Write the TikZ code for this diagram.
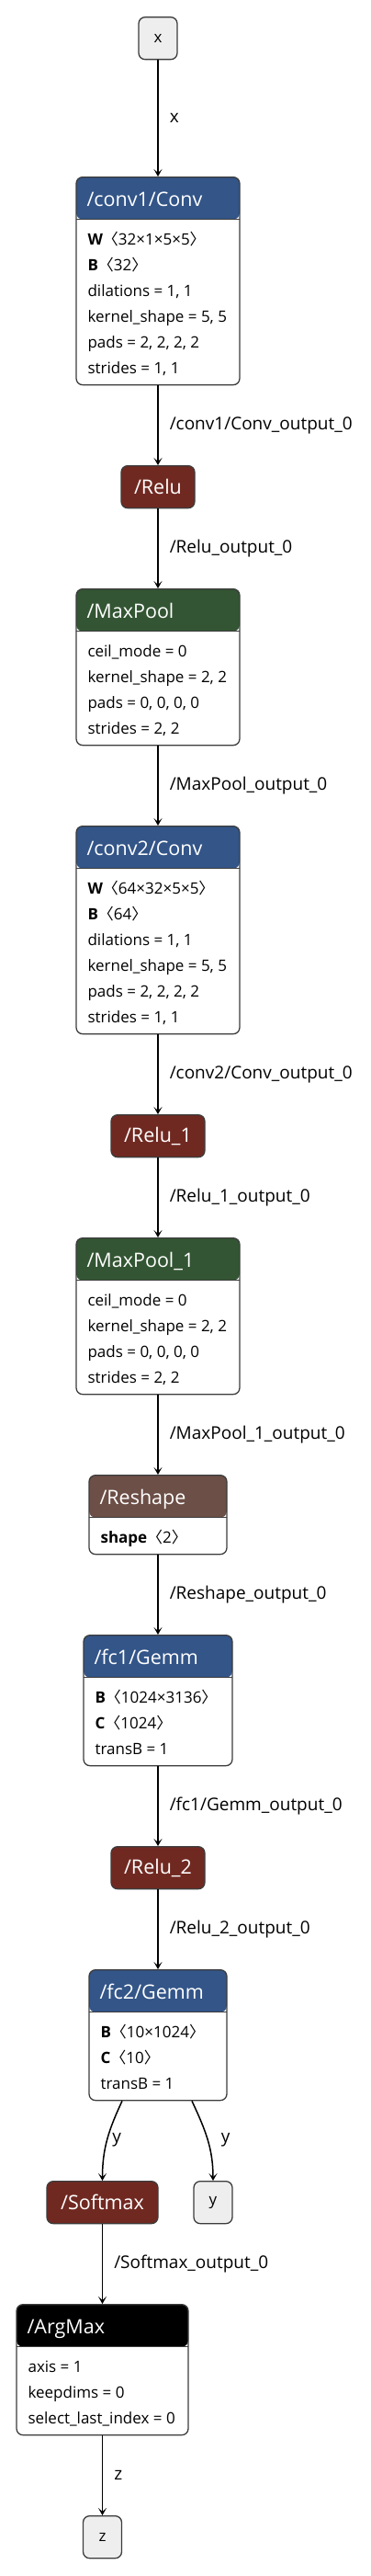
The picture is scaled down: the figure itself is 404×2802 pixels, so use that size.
\documentclass[tikz,border=0pt]{standalone}
\usepackage{fontspec}
\setmainfont{Open Sans}
\newfontfamily\cjkfont{Noto Sans CJK SC}
\usetikzlibrary{arrows.meta,positioning}

\definecolor{convblue}{RGB}{51,85,136}
\definecolor{actred}{RGB}{112,41,33}
\definecolor{poolgreen}{RGB}{51,85,51}
\definecolor{shapebrown}{RGB}{108,79,71}
\definecolor{iogray}{RGB}{238,238,238}
\definecolor{edgegray}{RGB}{60,60,60}

\newcommand{\hdfont}{\fontsize{21.5}{25}\selectfont}
\newcommand{\bdfont}{\fontsize{17}{20}\selectfont}
\newcommand{\lbfont}{\fontsize{19}{22}\selectfont}
\newcommand{\shp}[2]{\textbf{#1}{\cjkfont 〈}#2{\cjkfont 〉}}

\tikzset{
  opbox/.style={draw=edgegray, line width=1.3pt, rounded corners=7pt, fill=white, anchor=north, inner sep=0pt},
  hdr/.style={path picture={
      \fill[#1] (path picture bounding box.north west) rectangle ([yshift=-46pt]path picture bounding box.north east);
      \draw[edgegray, line width=1.3pt] ([yshift=-46pt]path picture bounding box.north west) -- ([yshift=-46pt]path picture bounding box.north east);}},
  hdtext/.style={anchor=base west, text=white, font=\hdfont, inner sep=0pt},
  attr/.style={anchor=base west, font=\bdfont, inner sep=0pt},
  actbox/.style={draw=edgegray, line width=1.3pt, rounded corners=7pt, fill=actred, text=white, font=\hdfont, minimum height=46pt, anchor=north, inner sep=0pt},
  iobox/.style={draw=edgegray, line width=1.3pt, rounded corners=7pt, fill=iogray, font=\bdfont, minimum width=42pt, minimum height=46pt, anchor=north, inner sep=0pt},
  flow/.style={-{Stealth[length=8pt,width=9pt,inset=4pt]}, line width=1.5pt},
  elabel/.style={font=\lbfont, inner sep=0pt}
}

\begin{document}
\begin{tikzpicture}[x=1pt, y=-1pt]
\useasboundingbox (0,0) rectangle (404,2802);

% input
\node [iobox] (xin) at (172,18) {x};

% conv1
\node [opbox, hdr=convblue, minimum width=178pt, minimum height=226pt] (conv1) at (172,192) {};
\node [hdtext] (conv1-h) at ([xshift=12pt,yshift=-32pt]conv1.north west) {/conv1/Conv};
\foreach \t [count=\i from 0] in {{\shp{W}{32×1×5×5}}, {\shp{B}{32}}, {dilations = 1, 1}, {kernel\_shape = 5, 5}, {pads = 2, 2, 2, 2}, {strides = 1, 1}}
  \node [attr] (conv1-\i) at ([xshift=13pt,yshift=-74pt-28pt*\i]conv1.north west) {\t};

\node [actbox, minimum width=80pt] (relu) at (172,506) {/Relu};

% pool1
\node [opbox, hdr=poolgreen, minimum width=178pt, minimum height=170pt] (pool1) at (172,640) {};
\node [hdtext] (pool1-h) at ([xshift=12pt,yshift=-32pt]pool1.north west) {/MaxPool};
\foreach \t [count=\i from 0] in {{ceil\_mode = 0}, {kernel\_shape = 2, 2}, {pads = 0, 0, 0, 0}, {strides = 2, 2}}
  \node [attr] (pool1-\i) at ([xshift=13pt,yshift=-74pt-28pt*\i]pool1.north west) {\t};

% conv2
\node [opbox, hdr=convblue, minimum width=178pt, minimum height=226pt] (conv2) at (172,898) {};
\node [hdtext] (conv2-h) at ([xshift=12pt,yshift=-32pt]conv2.north west) {/conv2/Conv};
\foreach \t [count=\i from 0] in {{\shp{W}{64×32×5×5}}, {\shp{B}{64}}, {dilations = 1, 1}, {kernel\_shape = 5, 5}, {pads = 2, 2, 2, 2}, {strides = 1, 1}}
  \node [attr] (conv2-\i) at ([xshift=13pt,yshift=-74pt-28pt*\i]conv2.north west) {\t};

\node [actbox, minimum width=102pt] (relu1) at (172,1212) {/Relu\_1};

% pool2
\node [opbox, hdr=poolgreen, minimum width=178pt, minimum height=170pt] (pool2) at (172,1346) {};
\node [hdtext] (pool2-h) at ([xshift=12pt,yshift=-32pt]pool2.north west) {/MaxPool\_1};
\foreach \t [count=\i from 0] in {{ceil\_mode = 0}, {kernel\_shape = 2, 2}, {pads = 0, 0, 0, 0}, {strides = 2, 2}}
  \node [attr] (pool2-\i) at ([xshift=13pt,yshift=-74pt-28pt*\i]pool2.north west) {\t};

% reshape
\node [opbox, hdr=shapebrown, minimum width=150pt, minimum height=86pt] (reshape) at (172,1604) {};
\node [hdtext] (reshape-h) at ([xshift=12pt,yshift=-32pt]reshape.north west) {/Reshape};
\node [attr] (reshape-0) at ([xshift=13pt,yshift=-74pt]reshape.north west) {\shp{shape}{2}};

% fc1
\node [opbox, hdr=convblue, minimum width=162pt, minimum height=142pt] (fc1) at (172,1778) {};
\node [hdtext] (fc1-h) at ([xshift=12pt,yshift=-32pt]fc1.north west) {/fc1/Gemm};
\foreach \t [count=\i from 0] in {{\shp{B}{1024×3136}}, {\shp{C}{1024}}, {transB = 1}}
  \node [attr] (fc1-\i) at ([xshift=13pt,yshift=-74pt-28pt*\i]fc1.north west) {\t};

\node [actbox, minimum width=102pt] (relu2) at (172,2008) {/Relu\_2};

% fc2
\node [opbox, hdr=convblue, minimum width=150pt, minimum height=142pt] (fc2) at (172,2142) {};
\node [hdtext] (fc2-h) at ([xshift=12pt,yshift=-32pt]fc2.north west) {/fc2/Gemm};
\foreach \t [count=\i from 0] in {{\shp{B}{10×1024}}, {\shp{C}{10}}, {transB = 1}}
  \node [attr] (fc2-\i) at ([xshift=13pt,yshift=-74pt-28pt*\i]fc2.north west) {\t};

\node [actbox, minimum width=121pt] (softmax) at (111.5,2372) {/Softmax};
\node [iobox] (yout) at (232,2372) {y};

% argmax
\node [opbox, hdr=black, minimum width=187pt, minimum height=142pt] (argmax) at (111.5,2506) {};
\node [hdtext] (argmax-h) at ([xshift=12pt,yshift=-32pt]argmax.north west) {/ArgMax};
\foreach \t [count=\i from 0] in {{axis = 1}, {keepdims = 0}, {select\_last\_index = 0}}
  \node [attr] (argmax-\i) at ([xshift=13pt,yshift=-74pt-28pt*\i]argmax.north west) {\t};

\node [iobox] (zout) at (111.5,2736) {z};

% edges
\draw [flow] (xin) -- (conv1) node [elabel, midway, right=12pt] (l-x) {x};
\draw [flow] (conv1) -- (relu) node [elabel, midway, right=12pt] (l-c1) {/conv1/Conv\_output\_0};
\draw [flow] (relu) -- (pool1) node [elabel, midway, right=12pt] (l-r) {/Relu\_output\_0};
\draw [flow] (pool1) -- (conv2) node [elabel, midway, right=12pt] (l-p1) {/MaxPool\_output\_0};
\draw [flow] (conv2) -- (relu1) node [elabel, midway, right=12pt] (l-c2) {/conv2/Conv\_output\_0};
\draw [flow] (relu1) -- (pool2) node [elabel, midway, right=12pt] (l-r1) {/Relu\_1\_output\_0};
\draw [flow] (pool2) -- (reshape) node [elabel, midway, right=12pt] (l-p2) {/MaxPool\_1\_output\_0};
\draw [flow] (reshape) -- (fc1) node [elabel, midway, right=12pt] (l-rs) {/Reshape\_output\_0};
\draw [flow] (fc1) -- (relu2) node [elabel, midway, right=12pt] (l-f1) {/fc1/Gemm\_output\_0};
\draw [flow] (relu2) -- (fc2) node [elabel, midway, right=12pt] (l-r2) {/Relu\_2\_output\_0};
\draw [flow] ([xshift=-39pt]fc2.south) to [out=-115, in=90] node [elabel, midway, right=5pt] (l-y1) {y} (softmax.north);
\draw [flow] ([xshift=37pt]fc2.south) to [out=-65, in=90] node [elabel, midway, right=14pt] (l-y2) {y} (yout.north);
\draw [flow] (softmax) -- (argmax) node [elabel, midway, right=12pt] (l-sm) {/Softmax\_output\_0};
\draw [flow] (argmax) -- (zout) node [elabel, midway, right=12pt] (l-z) {z};

\end{tikzpicture}
\end{document}
